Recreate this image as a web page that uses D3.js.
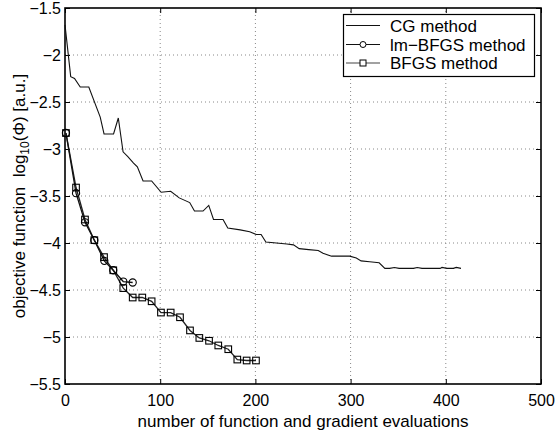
<!doctype html>
<html>
<head>
<meta charset="utf-8">
<script src="https://d3js.org/d3.v7.min.js"></script>
<style>
  body { margin: 0; background: #fff; }
  text { font-family: "Liberation Sans", Arial, sans-serif; fill: #000; }
</style>
</head>
<body>
<div id="chart"></div>
<script>
// ---- data ----
var cgX = [0, 6, 10, 16, 25, 37, 41, 51, 56, 61, 66, 72, 76, 82, 91, 101, 111, 120, 131, 136, 145, 151, 156, 166, 171, 184, 194, 201, 206, 211, 222, 233, 240, 246, 256, 266, 271, 280, 299, 306, 311, 320, 330, 336, 341, 346, 351, 366, 370, 375, 394, 396, 401, 408, 411, 416];
var cgY = [-1.68, -2.23, -2.25, -2.34, -2.34, -2.66, -2.84, -2.84, -2.67, -3.03, -3.08, -3.15, -3.19, -3.34, -3.34, -3.46, -3.45, -3.52, -3.57, -3.66, -3.66, -3.60, -3.75, -3.75, -3.84, -3.86, -3.88, -3.91, -3.91, -3.99, -4.00, -4.01, -4.02, -4.06, -4.07, -4.08, -4.11, -4.14, -4.14, -4.16, -4.19, -4.20, -4.21, -4.27, -4.27, -4.26, -4.27, -4.27, -4.26, -4.27, -4.27, -4.26, -4.27, -4.27, -4.26, -4.27];

var lmX = [1, 11.6, 21, 30.8, 41.3, 50.7, 61.2, 71.1];
var lmY = [-2.83, -3.47, -3.78, -3.97, -4.19, -4.29, -4.41, -4.42];

var bfgsX = [1, 11.6, 21, 30.8, 41, 50.7, 61.2, 71.1, 81.2, 91, 100.8, 111, 120.8, 131.3, 141.1, 151.3, 161, 171.5, 181, 190.8, 200.6];
var bfgsY = [-2.83, -3.41, -3.75, -3.97, -4.15, -4.29, -4.48, -4.58, -4.58, -4.62, -4.74, -4.74, -4.79, -4.93, -5.01, -5.04, -5.09, -5.13, -5.24, -5.25, -5.25];

var xTicks = [0, 100, 200, 300, 400, 500];
var yTicks = [-5.5, -5, -4.5, -4, -3.5, -3, -2.5, -2, -1.5];
var seriesNames = ["CG method", "lm\u2212BFGS method", "BFGS method"];

// ---- layout ----
var width = 558, height = 430;
var margin = {top: 8, right: 17, bottom: 46, left: 65};

var svg = d3.select("#chart").append("svg")
    .attr("width", width)
    .attr("height", height);

var x = d3.scaleLinear().domain([0, 500]).range([margin.left, width - margin.right]);
var y = d3.scaleLinear().domain([-5.5, -1.5]).range([height - margin.bottom, margin.top]);

function fmt(d) { return String(d).replace("-", "\u2212"); }

// dotted grid
var grid = svg.append("g");
grid.selectAll(".gx").data(xTicks.slice(1, -1)).enter().append("line")
    .attr("x1", d => x(d)).attr("x2", d => x(d))
    .attr("y1", y(-5.5)).attr("y2", y(-1.5))
    .attr("stroke", "#888").attr("stroke-dasharray", "1,3");
grid.selectAll(".gy").data(yTicks.slice(1, -1)).enter().append("line")
    .attr("x1", x(0)).attr("x2", x(500))
    .attr("y1", d => y(d)).attr("y2", d => y(d))
    .attr("stroke", "#888").attr("stroke-dasharray", "1,3");

// axes (ticks pointing inward, box on)
var xAxisB = d3.axisBottom(x).tickValues(xTicks).tickSize(-5).tickPadding(11).tickFormat(fmt);
var xAxisT = d3.axisTop(x).tickValues(xTicks).tickSize(-5).tickFormat("");
var yAxisL = d3.axisLeft(y).tickValues(yTicks).tickSize(-5).tickPadding(4).tickFormat(fmt);
var yAxisR = d3.axisRight(y).tickValues(yTicks).tickSize(-5).tickFormat("");

function styleAxis(g) {
  g.select(".domain").remove();
  g.selectAll(".tick line").attr("stroke", "#000").attr("stroke-width", 1);
  g.selectAll(".tick text").style("font-size", "16px").attr("font-family", null);
}
svg.append("g").attr("transform", "translate(0," + y(-5.5) + ")").call(xAxisB).call(styleAxis);
svg.append("g").attr("transform", "translate(0," + y(-1.5) + ")").call(xAxisT).call(styleAxis);
svg.append("g").attr("transform", "translate(" + x(0) + ",0)").call(yAxisL).call(styleAxis);
svg.append("g").attr("transform", "translate(" + x(500) + ",0)").call(yAxisR).call(styleAxis);

svg.append("rect")
    .attr("x", x(0)).attr("y", y(-1.5))
    .attr("width", x(500) - x(0)).attr("height", y(-5.5) - y(-1.5))
    .attr("fill", "none").attr("stroke", "#000").attr("stroke-width", 1.6);

// series
var line = d3.line().x(d => x(d[0])).y(d => y(d[1]));
var cg = d3.zip(cgX, cgY), lm = d3.zip(lmX, lmY), bf = d3.zip(bfgsX, bfgsY);

svg.append("path").datum(cg).attr("d", line)
    .attr("fill", "none").attr("stroke", "#111").attr("stroke-width", 1.1);

svg.append("path").datum(bf).attr("d", line)
    .attr("fill", "none").attr("stroke", "#222").attr("stroke-width", 1.3);
svg.append("path").datum(lm).attr("d", line)
    .attr("fill", "none").attr("stroke", "#111").attr("stroke-width", 1.3);

svg.selectAll(".sq").data(bf).enter().append("rect")
    .attr("x", d => x(d[0]) - 3.3).attr("y", d => y(d[1]) - 3.3)
    .attr("width", 6.6).attr("height", 6.6)
    .attr("fill", "none").attr("stroke", "#000").attr("stroke-width", 1.1);
svg.selectAll(".ci").data(lm).enter().append("circle")
    .attr("cx", d => x(d[0])).attr("cy", d => y(d[1])).attr("r", 3.6)
    .attr("fill", "none").attr("stroke", "#000").attr("stroke-width", 1.1);

// axis labels
svg.append("text")
    .attr("x", (x(0) + x(500)) / 2).attr("y", 427)
    .attr("text-anchor", "middle").style("font-size", "17px")
    .text("number of function and gradient evaluations");

var yl = svg.append("text")
    .attr("transform", "translate(24.5," + (y(-3.5)) + ") rotate(-90)")
    .attr("text-anchor", "middle").style("font-size", "17px")
    .style("white-space", "pre");
yl.append("tspan").text("objective function  log");
yl.append("tspan").attr("dy", 4).style("font-size", "12px").text("10");
yl.append("tspan").attr("dy", -4).text("(\u03A6) [a.u.]");

// legend
var lg = svg.append("g");
lg.append("rect").attr("x", 343.5).attr("y", 14.5).attr("width", 191).attr("height", 62)
    .attr("fill", "#fff").attr("stroke", "#000").attr("stroke-width", 1.2);
var rowY = [25.5, 44.5, 63];
seriesNames.forEach(function(name, i) {
  lg.append("line").attr("x1", 346).attr("x2", 380).attr("y1", rowY[i]).attr("y2", rowY[i])
      .attr("stroke", i == 2 ? "#444" : "#111").attr("stroke-width", 1.2);
  if (i == 1) {
    lg.append("circle").attr("cx", 363).attr("cy", rowY[i]).attr("r", 3)
        .attr("fill", "#fff").attr("stroke", "#000");
  }
  if (i == 2) {
    lg.append("rect").attr("x", 360).attr("y", rowY[i] - 3).attr("width", 6).attr("height", 6)
        .attr("fill", "#fff").attr("stroke", "#000");
  }
  lg.append("text").attr("x", 390).attr("y", rowY[i]).attr("dy", "0.36em")
      .style("font-size", "17px").text(name);
});
</script>
</body>
</html>
